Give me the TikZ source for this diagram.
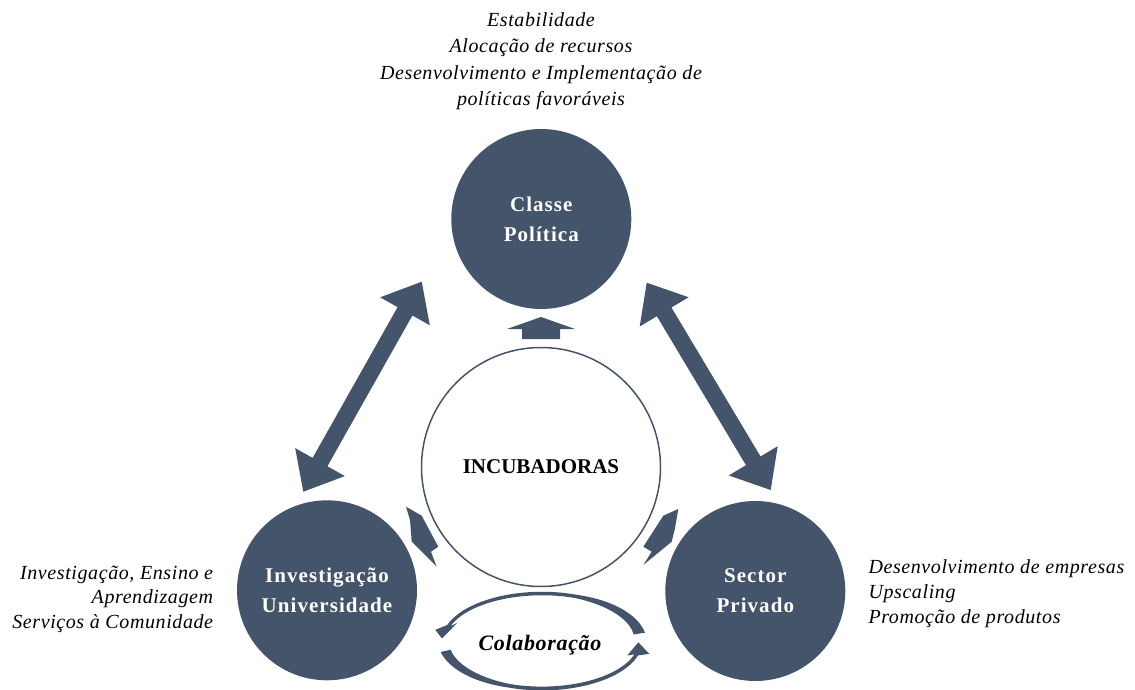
\documentclass[tikz,border=0pt]{standalone}
\usepackage{fontspec}
\setmainfont{Liberation Serif}
\newfontfamily\circfont[LetterSpace=5]{Liberation Serif}
\newfontfamily\notefont[LetterSpace=3]{Liberation Serif}
\usetikzlibrary{calc}
\definecolor{mainc}{HTML}{44546A}
\tikzset{
  bigcirc/.style={circle, fill=mainc, minimum size=180pt, inner sep=0pt, text=white,
    align=center, font={\circfont\bfseries\fontsize{21}{30}\selectfont}},
  incirc/.style={circle, draw=mainc, line width=1.5pt, minimum size=239pt, inner sep=0pt,
    font={\bfseries\fontsize{21}{25}\selectfont}},
  note/.style={inner sep=0pt, font={\notefont\itshape\fontsize{20}{24}\selectfont}},
  collab/.style={inner sep=0pt, font={\notefont\bfseries\itshape\fontsize{22}{26}\selectfont}},
  arrowfill/.style={fill=mainc},
}
% double-headed block arrow between two tips
\newcommand\dblblock[2]{%
  \fill[arrowfill] (#1)
   -- ($(#1)!34pt!(#2)!28.5pt!90:(#2)$)
   -- ($(#1)!34pt!(#2)!8.5pt!90:(#2)$)
   -- ($(#2)!34pt!(#1)!8.5pt!-90:(#1)$)
   -- ($(#2)!34pt!(#1)!28.5pt!-90:(#1)$)
   -- (#2)
   -- ($(#2)!34pt!(#1)!28.5pt!90:(#1)$)
   -- ($(#2)!34pt!(#1)!8.5pt!90:(#1)$)
   -- ($(#1)!34pt!(#2)!8.5pt!-90:(#2)$)
   -- ($(#1)!34pt!(#2)!28.5pt!-90:(#2)$)
   -- cycle;}
\begin{document}
\begin{tikzpicture}[x=1pt,y=-1pt]
\useasboundingbox (0,0) rectangle (1135,690);

% circles
\node[bigcirc] (pol) at (541.3,219) {Classe\\Política};
\node[bigcirc] (inv) at (327,590.3) {Investigação\\Universidade};
\node[bigcirc] (sec) at (755.3,591) {Sector\\Privado};
\node[incirc] (inc) at (541,467) {INCUBADORAS};

% big double arrows
\coordinate (la1) at (421.7,281.7);
\coordinate (la2) at (303.3,491.7);
\coordinate (ra1) at (646.7,282.7);
\coordinate (ra2) at (770.7,490);
\dblblock{la1}{la2}
\dblblock{ra1}{ra2}

% small arrow up
\fill[arrowfill] (541,317) -- (575,329) -- (560,329) -- (560,339) -- (522,339) -- (522,329) -- (507,329) -- cycle;
% small odd arrows
\fill[arrowfill] (406,506.7) -- (421.7,515.7) -- (438.3,546.7) -- (431,551.7) -- (436.7,566.7) -- (411.7,541.7) -- (410,520) -- cycle;
\fill[arrowfill] (678.3,509) -- (663.3,515.7) -- (643.3,546.7) -- (651.7,551.7) -- (643.3,565) -- (671.7,541.7) -- (675,528.3) -- cycle;

% collaboration arrows
\fill[arrowfill]
  plot[domain=9:161,samples=60] ({542+(98.5+0.5*(3.5+8*max(0,(70-\x)/61)))*cos(\x)},{641-(47.5+0.5*(3.5+8*max(0,(70-\x)/61)))*sin(\x)})
  -- (435.3,629.8) -- (442,638.5) -- (457.3,622.8)
  -- plot[domain=161:9,samples=60] ({542+(98.5-0.5*(3.5+8*max(0,(70-\x)/61)))*cos(\x)},{641-(47.5-0.5*(3.5+8*max(0,(70-\x)/61)))*sin(\x)})
  -- cycle;
\fill[arrowfill]
  plot[domain=192:343,samples=60] ({542+(98.5+0.5*(3.8+6.5*max(0,(250-\x)/58)))*cos(\x)},{641-(47.5+0.5*(3.8+6.5*max(0,(250-\x)/58)))*sin(\x)})
  -- (649.3,653.8) -- (638.3,642.3) -- (627.3,655.5)
  -- plot[domain=343:192,samples=60] ({542+(98.5-0.5*(3.8+6.5*max(0,(250-\x)/58)))*cos(\x)},{641-(47.5-0.5*(3.8+6.5*max(0,(250-\x)/58)))*sin(\x)})
  -- cycle;
\node[collab, anchor=base] (col) at (540,650.7) {Colaboração};

% top notes
\node[note, anchor=base] (t1) at (541,26.7) {Estabilidade};
\node[note, anchor=base] (t2) at (541,53) {Alocação de recursos};
\node[note, anchor=base] (t3) at (541,80) {Desenvolvimento e Implementação de};
\node[note, anchor=base] (t4) at (541,106) {políticas favoráveis};

% left notes
\node[note, anchor=base east] (l1) at (213.3,579.3) {Investigação, Ensino e};
\node[note, anchor=base east] (l2) at (213.3,603.8) {Aprendizagem};
\node[note, anchor=base east] (l3) at (213.3,628.3) {Serviços à Comunidade};

% right notes
\node[note, anchor=base west] (r1) at (868.3,573.3) {Desenvolvimento de empresas};
\node[note, anchor=base west] (r2) at (868.3,598.3) {Upscaling};
\node[note, anchor=base west] (r3) at (868.3,623.3) {Promoção de produtos};
\end{tikzpicture}
\end{document}
